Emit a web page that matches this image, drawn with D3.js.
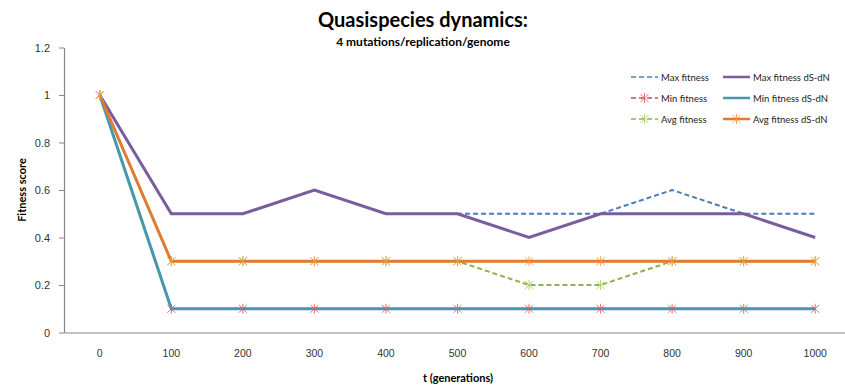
<!DOCTYPE html>
<html>
<head>
<meta charset="utf-8">
<script src="https://cdn.jsdelivr.net/npm/d3@7"></script>
<style>
body{margin:0;background:#fff;}
svg{font-family:Lato,"Open Sans",sans-serif;}
</style>
</head>
<body>
<svg width="845" height="386"></svg>
<script>
var categories = ['0','100','200','300','400','500','600','700','800','900','1000'];
var yTicks = [0,0.2,0.4,0.6,0.8,1,1.2];

var maxFit = [1,0.5,0.5,0.6,0.5,0.5,0.5,0.5,0.6,0.5,0.5];
var minFit = [1,0.1,0.1,0.1,0.1,0.1,0.1,0.1,0.1,0.1,0.1];
var avgFit = [1,0.3,0.3,0.3,0.3,0.3,0.2,0.2,0.3,0.3,0.3];
var maxFitDs = [1,0.5,0.5,0.6,0.5,0.5,0.4,0.5,0.5,0.5,0.4];
var minFitDs = [1,0.1,0.1,0.1,0.1,0.1,0.1,0.1,0.1,0.1,0.1];
var avgFitDs = [1,0.3,0.3,0.3,0.3,0.3,0.3,0.3,0.3,0.3,0.3];

var series = [
	{name:'Max fitness', values:maxFit, color:'#4A7EBB', dash:'5,3', width:2, marker:false},
	{name:'Min fitness', values:minFit, color:'#C0504D', dash:'5,3', width:2, marker:true},
	{name:'Avg fitness', values:avgFit, color:'#8DB24E', dash:'5,3', width:2, marker:true},
	{name:'Max fitness dS-dN', values:maxFitDs, color:'#7A5D9C', dash:null, width:3, marker:false},
	{name:'Min fitness dS-dN', values:minFitDs, color:'#4798AF', dash:null, width:3, marker:false},
	{name:'Avg fitness dS-dN', values:avgFitDs, color:'#DE7C33', dash:null, width:3, marker:true}
];

var svg = d3.select('svg');
var plotL = 64, plotR = 851, plotT = 47.5, plotB = 332.5;

var xscale = d3.scaleBand().domain(categories).range([plotL,plotR]);
var yscale = d3.scaleLinear().domain([0,1.2]).range([plotB,plotT]);
var px = d => xscale(d) + xscale.bandwidth()/2;

// axes
var yaxis = svg.append('g').attr('transform',`translate(${plotL},0)`)
	.call(d3.axisLeft(yscale).tickValues(yTicks).tickSize(5).tickSizeOuter(0).tickFormat(d3.format('')));
yaxis.select('.domain').attr('stroke','#868686').attr('stroke-width',1.2);
yaxis.selectAll('.tick line').attr('stroke','#868686');
yaxis.selectAll('.tick text').attr('font-size',11).attr('fill','#333').attr('x',-14);

var xaxis = svg.append('g').attr('transform',`translate(0,${plotB})`)
	.call(d3.axisBottom(xscale).tickSize(0).tickSizeOuter(0));
xaxis.select('.domain').attr('stroke','#868686').attr('stroke-width',1.2);
xaxis.selectAll('.tick text').attr('font-size',10.5).attr('fill','#333').attr('dy',0).attr('y',24);

// lines
var line = d3.line().x((d,i) => px(categories[i])).y(d => yscale(d));
series.forEach(s => {
	svg.append('path').datum(s.values)
		.attr('d',line).attr('fill','none')
		.attr('stroke',s.color).attr('stroke-width',s.width)
		.attr('stroke-dasharray',s.dash).attr('stroke-linejoin','miter');
});

function star(g,x,y,color){
	var r = 4;
	g.append('path')
		.attr('d',`M${x-r},${y-r}L${x+r},${y+r}M${x-r},${y+r}L${x+r},${y-r}M${x},${y-r-1}L${x},${y+r+1}`)
		.attr('stroke',color).attr('stroke-width',1).attr('fill','none').attr('opacity',0.85);
}
var mk = svg.append('g');
series.filter(s => s.marker).forEach(s => {
	s.values.forEach((v,i) => star(mk,px(categories[i]),yscale(v),d3.color(s.color).brighter(0.4)));
});

// titles
svg.append('text').attr('x',423).attr('y',27).attr('text-anchor','middle')
	.attr('font-size',20).attr('font-weight','bold').text('Quasispecies dynamics:');
svg.append('text').attr('x',423).attr('y',46).attr('text-anchor','middle')
	.attr('font-size',12).attr('font-weight','bold').text('4 mutations/replication/genome');
svg.append('text').attr('transform','translate(26,190) rotate(-90)').attr('text-anchor','middle')
	.attr('font-size',11).attr('font-weight','bold').text('Fitness score');
svg.append('text').attr('x',458).attr('y',382).attr('text-anchor','middle')
	.attr('font-size',11).attr('font-weight','bold').text('t  (generations)');

// legend
var legPos = [[631,77],[631,98],[631,119],[723,77],[723,98],[723,119]];
series.forEach((s,i) => {
	var lx = legPos[i][0], ly = legPos[i][1];
	var lg = svg.append('g');
	lg.append('line').attr('x1',lx).attr('x2',lx+27).attr('y1',ly).attr('y2',ly)
		.attr('stroke',s.color).attr('stroke-width',s.width-0.5).attr('stroke-dasharray',s.dash);
	if(s.marker) star(lg,lx+13.5,ly,d3.color(s.color).brighter(0.4));
	lg.append('text').attr('x',lx+30).attr('y',ly+3.5).attr('font-size',9.5).attr('fill','#222').text(s.name);
});
</script>
</body>
</html>
